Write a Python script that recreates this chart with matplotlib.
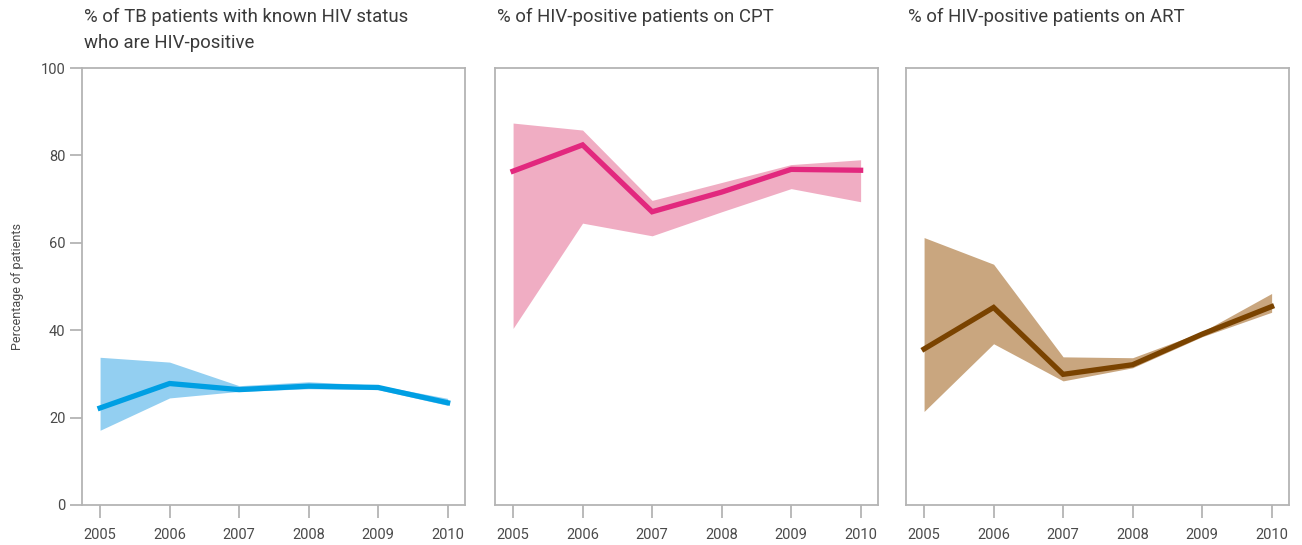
import numpy as np
import matplotlib
matplotlib.use("Agg")
import matplotlib.pyplot as plt

plt.rcParams['font.family'] = ['Roboto', 'DejaVu Sans']

years = [2005, 2006, 2007, 2008, 2009, 2010]

# HIV-positive share among TB patients with known status
hiv_pos = [22.2, 27.8, 26.4, 27.2, 26.9, 23.4]
hiv_pos_hi = [33.8, 32.7, 27.3, 28.2, 27.4, 24.4]
hiv_pos_lo = [17.1, 24.5, 26.0, 26.6, 26.4, 22.8]

# on CPT
cpt = [76.4, 82.4, 67.1, 71.6, 76.8, 76.6]
cpt_hi = [87.4, 85.8, 69.7, 73.8, 77.9, 79.0]
cpt_lo = [40.4, 64.5, 61.6, 67.1, 72.4, 69.4]

# on ART
art = [35.7, 45.2, 29.9, 32.1, 39.1, 45.4]
art_hi = [61.2, 55.1, 33.9, 33.7, 39.6, 48.4]
art_lo = [21.4, 36.9, 28.4, 31.4, 38.5, 44.1]

titles = ["% of TB patients with known HIV status\nwho are HIV-positive",
          "% of HIV-positive patients on CPT",
          "% of HIV-positive patients on ART"]

panels = [
    (hiv_pos, hiv_pos_lo, hiv_pos_hi, "#009fe3", "#93cff1"),
    (cpt, cpt_lo, cpt_hi, "#e2287e", "#f0adc3"),
    (art, art_lo, art_hi, "#7a4300", "#c9a67f"),
]

W, H = 1302, 545
fig = plt.figure(figsize=(W / 100, H / 100), dpi=100)

lefts = [82, 495, 906]
spine_col = "#b4b4b4"
text_col = "#4a4a4a"

for i, (mid, lo, hi, lc, fc) in enumerate(panels):
    ax = fig.add_axes([lefts[i] / W, (H - 505) / H, 383 / W, 437 / H])
    ax.fill_between(years, lo, hi, color=fc, lw=0, zorder=1)
    ax.plot(years, mid, color=lc, lw=3.8, solid_joinstyle='miter', zorder=2)
    ax.set_xlim(2004.74, 2010.25)
    ax.set_ylim(0, 100)
    ax.set_xticks(years)
    ax.set_xticklabels([str(y) for y in years])
    for s in ax.spines.values():
        s.set_color(spine_col)
        s.set_linewidth(1.3)
    ax.tick_params(axis='x', length=9, width=1.3, color=spine_col,
                   labelcolor=text_col, labelsize=10.5, pad=7.5)
    if i == 0:
        ax.set_yticks([0, 20, 40, 60, 80, 100])
        ax.tick_params(axis='y', length=9, width=1.3, color=spine_col,
                       labelcolor=text_col, labelsize=10.5, pad=3)
        ax.set_ylabel("Percentage of patients", color=text_col, fontsize=9, labelpad=12)
    else:
        ax.set_yticks([])
    fig.text((lefts[i] + 2) / W, 1 - 8 / H, titles[i], ha='left', va='top',
             fontsize=13.4, color="#3a3a3a", linespacing=1.55)

fig.savefig("out.png", dpi=100)
